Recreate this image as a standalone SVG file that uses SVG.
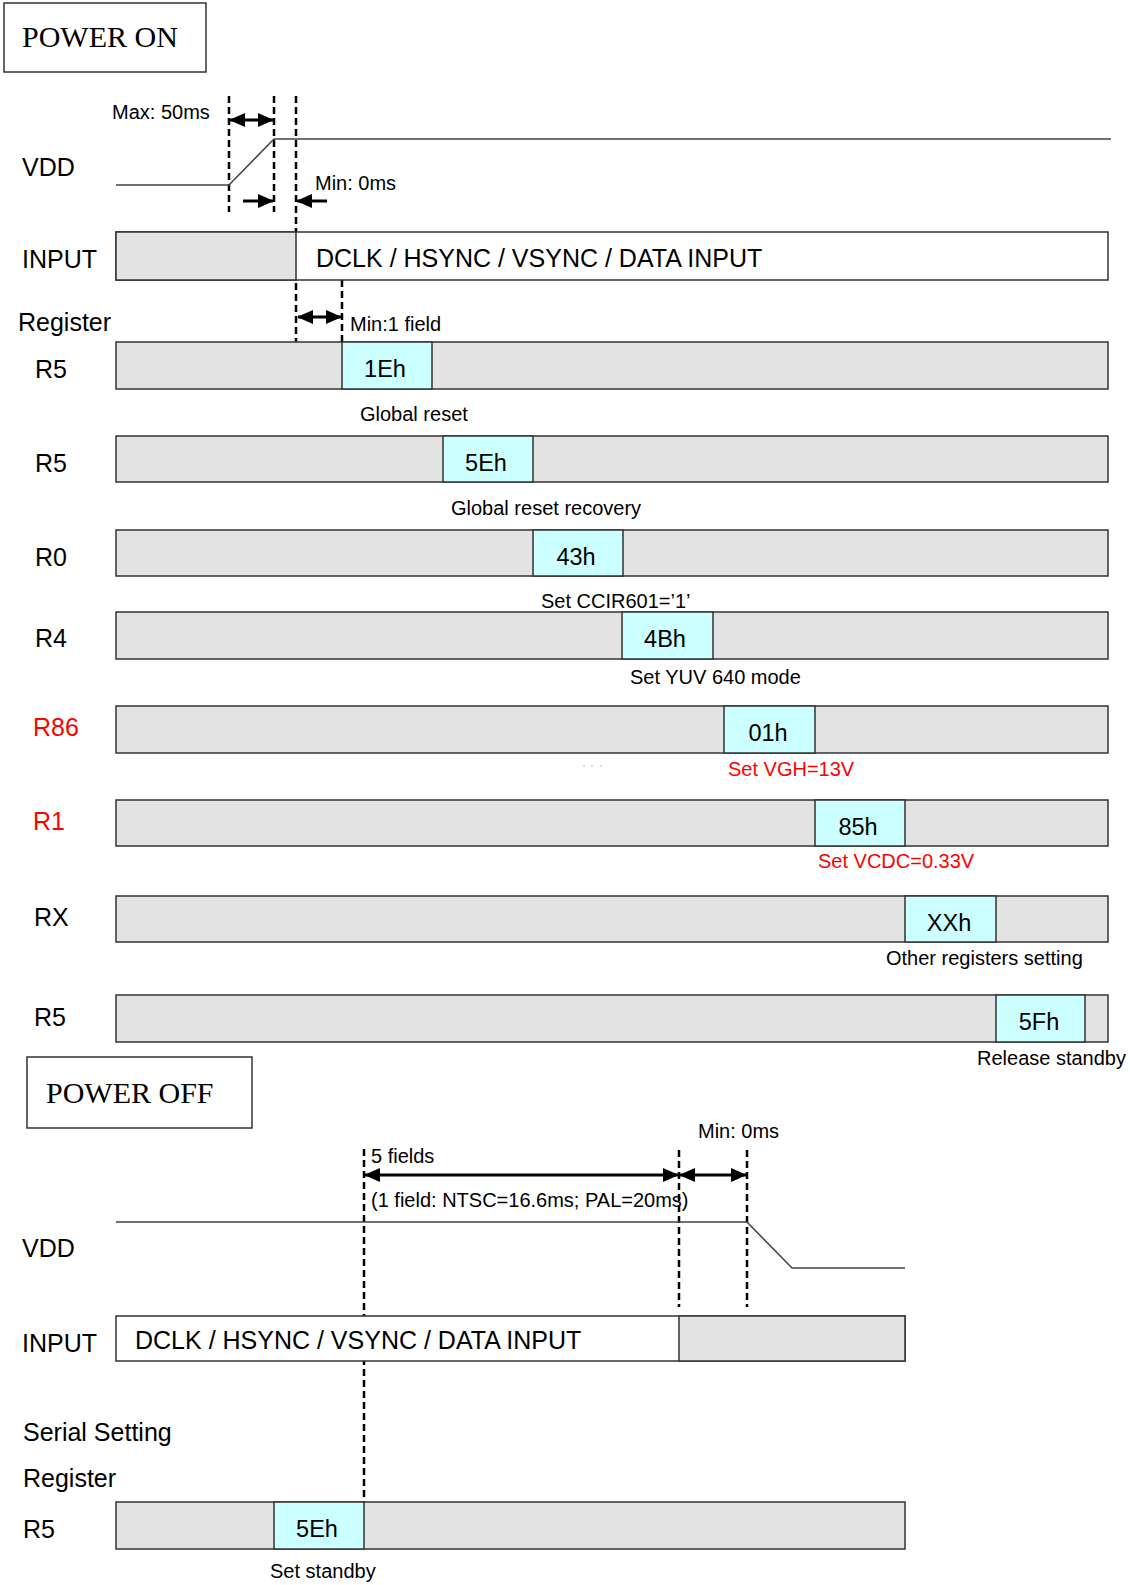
<svg xmlns="http://www.w3.org/2000/svg" width="1130" height="1585" viewBox="0 0 1130 1585">
<style>
.lbl{font-family:"Liberation Sans",Arial,sans-serif;font-size:25px;fill:#000}
.sm{font-family:"Liberation Sans",Arial,sans-serif;font-size:20px;fill:#000}
.cy{font-family:"Liberation Sans",Arial,sans-serif;font-size:23.5px;fill:#000;text-anchor:middle}
.big{font-family:"Liberation Sans",Arial,sans-serif;font-size:25px;fill:#000}
.ttl{font-family:"Liberation Serif","Times New Roman",serif;font-size:30px;fill:#000}
text.red{fill:#ff0000}
.frame{fill:#fff;stroke:#333;stroke-width:1.5}
.gray{fill:#e3e3e3;stroke:#333;stroke-width:1.5}
.cyan{fill:#ccffff;stroke:#333;stroke-width:1.5}
.white{fill:#fff;stroke:#333;stroke-width:1.5}
.sig{fill:none;stroke:#444;stroke-width:1.5}
.dash{fill:none;stroke:#000;stroke-width:2.5;stroke-dasharray:7 4}
.arr{fill:none;stroke:#000;stroke-width:3}
</style>
<defs>
<marker id="ah" viewBox="0 0 16 14" refX="15" refY="7" markerWidth="16" markerHeight="14" markerUnits="userSpaceOnUse" orient="auto-start-reverse">
<path d="M0,0 L16,7 L0,14 z" fill="#000"/>
</marker>
</defs>

<g id="connectors">
<line class="dash" x1="229" y1="96" x2="229" y2="212"/>
<line class="dash" x1="274" y1="96" x2="274" y2="212"/>
<line class="dash" x1="296" y1="96" x2="296" y2="392"/>
<line class="dash" x1="342" y1="280" x2="342" y2="342"/>
<polyline class="sig" points="116,185 229,185 274,139 1111,139"/>
<line class="arr" x1="230" y1="120" x2="273" y2="120" marker-start="url(#ah)" marker-end="url(#ah)"/>
<line class="arr" x1="243" y1="201" x2="273" y2="201" marker-end="url(#ah)"/>
<line class="arr" x1="327" y1="201" x2="297" y2="201" marker-end="url(#ah)"/>
<line class="arr" x1="298" y1="317" x2="341" y2="317" marker-start="url(#ah)" marker-end="url(#ah)"/>
<line class="dash" x1="364" y1="1149" x2="364" y2="1502"/>
<line class="dash" x1="679" y1="1150" x2="679" y2="1307"/>
<line class="dash" x1="747" y1="1150" x2="747" y2="1307"/>
<polyline class="sig" points="116,1222 747,1222 792,1268 905,1268"/>
<line class="arr" x1="365" y1="1175" x2="678" y2="1175" marker-start="url(#ah)" marker-end="url(#ah)"/>
<line class="arr" x1="680" y1="1175" x2="746" y2="1175" marker-start="url(#ah)" marker-end="url(#ah)"/>
</g>

<g id="power-on-title">
<rect class="frame" x="4" y="3" width="202" height="69"/>
<text class="ttl" x="22" y="47">POWER ON</text>
</g>

<g id="timing-labels-on">
<text class="sm" x="112" y="119">Max: 50ms</text>
<text class="sm" x="315" y="190">Min: 0ms</text>
<text class="sm" x="350" y="331">Min:1 field</text>
<text class="lbl" x="22" y="176">VDD</text>
</g>

<g id="input-on">
<text class="lbl" x="22" y="268">INPUT</text>
<rect class="white" x="116" y="232" width="992" height="48"/>
<rect class="gray" x="116" y="232" width="180" height="48"/>
<text class="big" x="316" y="267">DCLK / HSYNC / VSYNC / DATA INPUT</text>
</g>

<text class="lbl" x="18" y="331">Register</text>

<g id="reg-r5-1eh">
<text class="lbl" x="35" y="378">R5</text>
<rect class="gray" x="116" y="342" width="992" height="47"/>
<rect class="cyan" x="342" y="342" width="90" height="47"/>
<text class="cy" x="385" y="377">1Eh</text>
<text class="sm" x="360" y="421">Global reset</text>
</g>

<g id="reg-r5-5eh">
<text class="lbl" x="35" y="472">R5</text>
<rect class="gray" x="116" y="436" width="992" height="46"/>
<rect class="cyan" x="443" y="436" width="90" height="46"/>
<text class="cy" x="486" y="471">5Eh</text>
<text class="sm" x="451" y="515">Global reset recovery</text>
</g>

<g id="reg-r0-43h">
<text class="lbl" x="35" y="566">R0</text>
<rect class="gray" x="116" y="530" width="992" height="46"/>
<rect class="cyan" x="533" y="530" width="90" height="46"/>
<text class="cy" x="576" y="565">43h</text>
<text class="sm" x="541" y="608">Set CCIR601=’1’</text>
</g>

<g id="reg-r4-4bh">
<text class="lbl" x="35" y="647">R4</text>
<rect class="gray" x="116" y="612" width="992" height="47"/>
<rect class="cyan" x="622" y="612" width="91" height="47"/>
<text class="cy" x="665" y="647">4Bh</text>
<text class="sm" x="630" y="684">Set YUV 640 mode</text>
</g>

<g id="reg-r86-01h">
<text class="lbl red" x="33" y="736">R86</text>
<rect class="gray" x="116" y="706" width="992" height="47"/>
<rect class="cyan" x="724" y="706" width="91" height="47"/>
<text class="cy" x="768" y="741">01h</text>
<text class="sm red" x="728" y="776">Set VGH=13V</text>
<circle cx="584" cy="766" r="0.9" fill="#ccc"/>
<circle cx="592" cy="766" r="0.9" fill="#ccc"/>
<circle cx="601" cy="766" r="0.9" fill="#ccc"/>
</g>

<g id="reg-r1-85h">
<text class="lbl red" x="33" y="830">R1</text>
<rect class="gray" x="116" y="800" width="992" height="46"/>
<rect class="cyan" x="815" y="800" width="90" height="46"/>
<text class="cy" x="858" y="835">85h</text>
<text class="sm red" x="818" y="868">Set VCDC=0.33V</text>
</g>

<g id="reg-rx-xxh">
<text class="lbl" x="34" y="926">RX</text>
<rect class="gray" x="116" y="896" width="992" height="46"/>
<rect class="cyan" x="905" y="896" width="91" height="46"/>
<text class="cy" x="949" y="931">XXh</text>
<text class="sm" x="886" y="965">Other registers setting</text>
</g>

<g id="reg-r5-5fh">
<text class="lbl" x="34" y="1026">R5</text>
<rect class="gray" x="116" y="995" width="992" height="47"/>
<rect class="cyan" x="996" y="995" width="89" height="47"/>
<text class="cy" x="1039" y="1030">5Fh</text>
<text class="sm" x="977" y="1065">Release standby</text>
</g>

<g id="power-off-title">
<rect class="frame" x="27" y="1057" width="225" height="71"/>
<text class="ttl" x="46" y="1103">POWER OFF</text>
</g>

<g id="timing-labels-off">
<text class="sm" x="698" y="1138">Min: 0ms</text>
<text class="sm" x="371" y="1163">5 fields</text>
<text class="sm" x="371" y="1207">(1 field: NTSC=16.6ms; PAL=20ms)</text>
<text class="lbl" x="22" y="1257">VDD</text>
</g>

<g id="input-off">
<text class="lbl" x="22" y="1352">INPUT</text>
<rect class="white" x="116" y="1316" width="789" height="45"/>
<rect class="gray" x="679" y="1316" width="226" height="45"/>
<text class="big" x="135" y="1349">DCLK / HSYNC / VSYNC / DATA INPUT</text>
</g>

<text class="lbl" x="23" y="1441">Serial Setting</text>
<text class="lbl" x="23" y="1487">Register</text>

<g id="reg-off-r5-5eh">
<text class="lbl" x="23" y="1538">R5</text>
<rect class="gray" x="116" y="1502" width="789" height="47"/>
<rect class="cyan" x="274" y="1502" width="90" height="47"/>
<text class="cy" x="317" y="1537">5Eh</text>
<text class="sm" x="270" y="1578">Set standby</text>
</g>
</svg>
